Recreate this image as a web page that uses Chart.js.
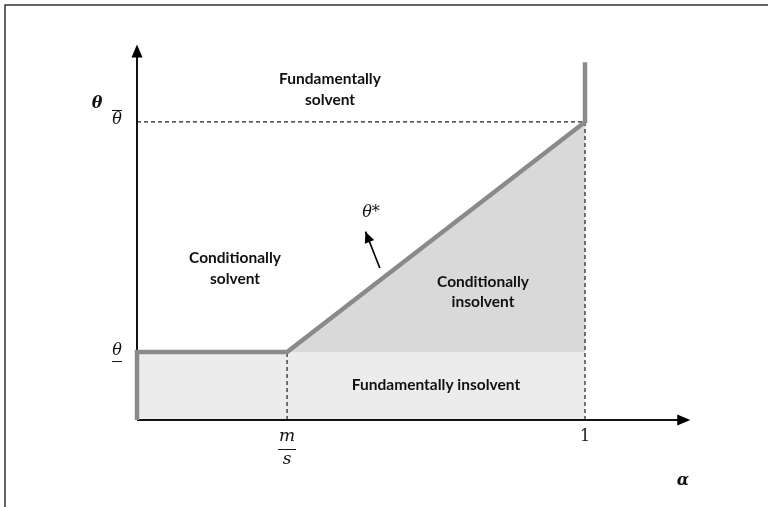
<!DOCTYPE html>
<html>
<head>
<meta charset="utf-8">
<script src="https://cdn.jsdelivr.net/npm/chart.js@4.4.1/dist/chart.umd.min.js"></script>
<style>
  html, body { margin: 0; padding: 0; background: #fff; }
  #wrap { width: 768px; height: 507px; position: relative; }
</style>
</head>
<body>
<div id="wrap"><canvas id="regions"></canvas></div>
<script>
// Regions of the (alpha, theta) plane
const alphaTicks = [0.335, 1];           // m/s and 1
const thetaTicks = [0.228, 1];           // theta underbar, theta bar
const thetaStarAlpha = [0, 0, 0.335, 1, 1];
const thetaStarTheta = [0, 0.228, 0.228, 1, 1.2];
const axisEnd = { alpha: 1.235, theta: 1.26 };
const arrowFrom = [0.542, 0.51];
const arrowTo = [0.51, 0.632];

const ms = alphaTicks[0], one = alphaTicks[1];
const lo = thetaTicks[0], hi = thetaTicks[1];

function pts(xs, ys) { return xs.map((x, i) => ({ x: x, y: ys[i] })); }

const dashed = { borderColor: '#222', borderWidth: 1.2, borderDash: [4, 3], pointRadius: 0, fill: false, clip: false, order: 5 };

const datasets = [
    { data: pts([0, one], [lo, lo]), borderWidth: 0, backgroundColor: '#ececec', fill: 'origin', pointRadius: 0, clip: false, order: 10 },
    { data: pts([ms, one], [lo, hi]), borderWidth: 0, backgroundColor: '#d9d9d9', fill: { value: lo }, pointRadius: 0, clip: false, order: 9 },
    Object.assign({ data: pts([0, one], [hi, hi]) }, dashed),
    Object.assign({ data: pts([ms, ms], [0, lo]) }, dashed),
    Object.assign({ data: pts([one, one], [0, hi]) }, dashed),
    { data: pts([0, axisEnd.alpha - 0.02], [0, 0]), borderColor: '#111', borderWidth: 2, pointRadius: 0, clip: false, order: 4 },
    { data: pts([0, 0], [0, axisEnd.theta - 0.03]), borderColor: '#111', borderWidth: 2, pointRadius: 0, clip: false, order: 4 },
    { data: pts(thetaStarAlpha, thetaStarTheta), borderColor: '#8a8a8a', borderWidth: 4.5, pointRadius: 0, fill: false, clip: false, order: 1, borderCapStyle: 'butt', borderJoinStyle: 'miter' },
    { data: [{ x: arrowFrom[0], y: arrowFrom[1] }, { x: arrowTo[0], y: arrowTo[1] }], borderColor: '#000', borderWidth: 1.6, pointRadius: 0, clip: false, order: 0 }
];

function head(ctx, x1, y1, x2, y2, len, half) {
    const a = Math.atan2(y2 - y1, x2 - x1);
    ctx.beginPath();
    ctx.moveTo(x2, y2);
    ctx.lineTo(x2 - len * Math.cos(a) + half * Math.sin(a), y2 - len * Math.sin(a) - half * Math.cos(a));
    ctx.lineTo(x2 - len * Math.cos(a) - half * Math.sin(a), y2 - len * Math.sin(a) + half * Math.cos(a));
    ctx.closePath();
    ctx.fill();
}

const decor = {
    id: 'decor',
    afterDraw(chart) {
        const ctx = chart.ctx;
        const X = v => chart.scales.x.getPixelForValue(v);
        const Y = v => chart.scales.y.getPixelForValue(v);
        ctx.save();
        // frame
        ctx.strokeStyle = '#333';
        ctx.lineWidth = 1.5;
        ctx.beginPath();
        ctx.moveTo(5, 507); ctx.lineTo(5, 5); ctx.lineTo(768, 5);
        ctx.stroke();

        ctx.fillStyle = '#000';
        head(ctx, X(0), Y(0), X(axisEnd.alpha), Y(0), 13, 5.5);
        head(ctx, X(0), Y(0), X(0), Y(axisEnd.theta), 13, 5.5);
        head(ctx, X(arrowFrom[0]), Y(arrowFrom[1]), X(arrowTo[0]), Y(arrowTo[1]), 11, 5);

        ctx.textAlign = 'center';
        ctx.textBaseline = 'middle';
        ctx.fillStyle = '#111';
        ctx.font = 'bold 15.5px Lato';
        ctx.fillText('Fundamentally', 330, 79);
        ctx.fillText('solvent', 330, 100);
        ctx.fillText('Conditionally', 235, 258);
        ctx.fillText('solvent', 235, 279);
        ctx.fillText('Conditionally', 483, 282);
        ctx.fillText('insolvent', 483, 302);
        ctx.fillText('Fundamentally insolvent', 436, 385);

        ctx.font = 'italic 16px "DejaVu Serif"';
        ctx.fillText('θ*', 371, 213);
        ctx.fillText('θ', 117, Y(hi) - 2);
        ctx.fillText('θ', 117, Y(lo) - 1);
        ctx.lineWidth = 1;
        ctx.strokeStyle = '#111';
        ctx.beginPath();
        ctx.moveTo(112, Y(hi) - 11.5); ctx.lineTo(122, Y(hi) - 11.5);
        ctx.moveTo(112, Y(lo) + 9.5); ctx.lineTo(122, Y(lo) + 9.5);
        ctx.stroke();

        ctx.font = 'italic 17px "DejaVu Serif"';
        ctx.fillText('m', X(ms), 437);
        ctx.fillText('s', X(ms), 460);
        ctx.beginPath();
        ctx.moveTo(X(ms) - 9, 449.5); ctx.lineTo(X(ms) + 9, 449.5);
        ctx.stroke();
        ctx.font = '16px "DejaVu Serif"';
        ctx.fillText('1', X(one), 437);

        ctx.font = 'bold italic 16px "DejaVu Serif"';
        ctx.fillText('θ', 97, 104);
        ctx.fillText('α', 683, 481);
        ctx.restore();
    }
};

new Chart(document.getElementById('regions'), {
    type: 'line',
    data: { datasets: datasets },
    options: {
        responsive: true,
        maintainAspectRatio: false,
        animation: false,
        layout: { padding: { left: 137, right: 71, top: 40, bottom: 87 } },
        plugins: { legend: { display: false }, tooltip: { enabled: false } },
        scales: {
            x: { type: 'linear', min: 0, max: 1.25, display: false },
            y: { type: 'linear', min: 0, max: 1.275, display: false }
        }
    },
    plugins: [decor]
});
</script>
</body>
</html>
